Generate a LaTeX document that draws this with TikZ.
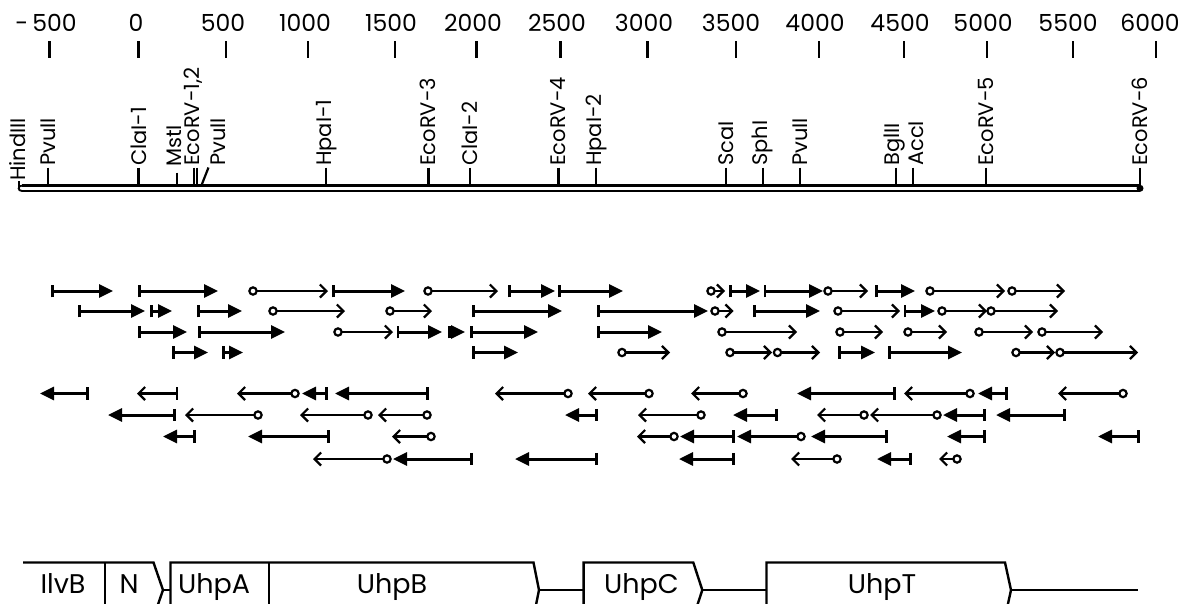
\documentclass[tikz,border=0pt]{standalone}
\usepackage{fontspec}
\setmainfont{Poppins}
\usetikzlibrary{arrows.meta}
\newcommand\rF[3]{\draw[fa] (#1,#3) -- (#2,#3);}
\newcommand\rO[3]{\draw[oa] ({#1-4.75},#3) -- (#2,#3);}
\newcommand\lO[3]{\draw[oa] ({#1+4.75},#3) -- (#2,#3);}
\newcommand\lBC[3]{\draw[bca] (#1,#3) -- (#2,#3);}
\newcommand\lOF[3]{\draw[ofa] ({#1+4.75},#3) -- (#2,#3);}
\begin{document}
\begin{tikzpicture}[x=1pt,y=-1pt,
  fa/.style={line width=3pt,{Bar[width=12.5pt,line width=2.6pt]}-{Triangle[length=14pt,width=13pt]}},
  oa/.style={line width=2.2pt,{Circle[open,length=9.5pt,width=9.5pt]}-{Straight Barb[length=6.5pt,width=13pt]}},
  bca/.style={line width=2.2pt,{Bar[width=12.5pt]}-{Straight Barb[length=6.5pt,width=13pt]}},
  ofa/.style={line width=3pt,{Circle[open,length=9.5pt,width=9.5pt,line width=2.2pt]}-{Triangle[length=14pt,width=13pt]}},
  scalelbl/.style={font=\fontsize{23.5}{23.5}\selectfont,anchor=base,inner sep=0pt},
  scaletick/.style={line width=2.6pt},
  sitelbl/.style={font=\fontsize{21}{21}\selectfont,rotate=90,anchor=west,inner sep=0pt},
  sitetick/.style={line width=2.2pt},
  genelbl/.style={font=\fontsize{27}{27}\selectfont,anchor=base,inner sep=0pt},
  gene/.style={line width=2.4pt,line join=miter},
]
\fill[white] (0,0) rectangle (1183,603);
\useasboundingbox (0,0) rectangle (1183,603);

% scale
\foreach \x/\lx/\t [count=\i] in {49.7/46/{-\,500},138.5/136/0,225.8/223/500,308/305/1000,395/391/1500,476.5/473/2000,560.6/557/2500,647.3/644/3000,735.8/731/3500,819/815/4000,904/900/4500,987/983/5000,1073/1068/5500,1156/1150/6000}{
  \node[scalelbl] (sc\i) at (\lx,31) {\t};
  \draw[scaletick] (\x,41) -- (\x,57.5);
}

% restriction map bar
\draw[line width=2.4pt] (22,185.6) -- (1140,185.6);
\draw[line width=1.5pt] (22,191) -- (1140,191);
\draw[line width=1.8pt] (22,185.6) .. controls (17.5,185.6) and (17.5,191) .. (22,191);
\fill (1140,188.3) circle (3.5);
\draw[sitetick] (19.2,181) -- (19.2,189);
\node[sitelbl] (hind) at (18,181) {HindIII};

\foreach \tx/\lx/\t [count=\i] in {47.8/47.8/PvuII,138.5/138.5/ClaI-1,326.3/326.3/HpaI-1,428.5/428/EcoRV-3,469.8/469.8/ClaI-2,558.5/558.5/EcoRV-4,595.8/596/HpaI-2,726/726/ScaI,762.7/762/SphI,800/800/PvuII,896/894.6/BglII,913/916.5/AccI,986/986/EcoRV-5,1139.6/1139.6/EcoRV-6}{
  \node[sitelbl] (site\i) at (\lx,166) {\t};
  \draw[sitetick] (\tx,167.5) -- (\tx,185);
}
\node[sitelbl] (mst) at (174,167) {MstI};
\draw[sitetick] (176.7,172.5) -- (176.7,185);
\node[sitelbl] (ecorv12) at (192.8,166) {EcoRV-1,2};
\draw[sitetick] (194.3,167.5) -- (194.3,185);
\draw[sitetick] (196.8,167.5) -- (196.8,185);
\node[sitelbl] (pvu2) at (218,166) {PvuII};
\draw[sitetick] (201.6,185) -- (208.5,167.5);

% rightward clones
\def\ya{291}\def\yb{311}\def\yc{332}\def\yd{352.5}
\rF{51}{113}{\ya}\rF{138}{218}{\ya}\rO{253}{328}{\ya}\rF{332}{405}{\ya}
\rO{428}{498}{\ya}\rF{508}{555}{\ya}\rF{558}{623}{\ya}\rO{711}{725}{\ya}
\rF{729}{760}{\ya}\rF{763.5}{823}{\ya}\rO{828}{868}{\ya}\rF{875}{915}{\ya}
\rO{930}{1005}{\ya}\rO{1012}{1065}{\ya}

\rF{78}{145}{\yb}\rF{150}{172}{\yb}\rF{197}{242}{\yb}\rO{273}{345}{\yb}
\rO{390}{432}{\yb}\rF{472}{562}{\yb}\rF{597}{708}{\yb}\rO{715}{733.5}{\yb}
\rF{753}{820}{\yb}\rO{838}{900}{\yb}\rF{903.5}{935}{\yb}\rO{942}{987}{\yb}
\rO{991}{1058}{\yb}

\rF{138}{187}{\yc}\rF{198}{285}{\yc}\rO{338}{393}{\yc}\rF{396.5}{442}{\yc}
\rF{448}{465}{\yc}\rF{470}{538}{\yc}\rF{597}{662}{\yc}\rO{722}{797}{\yc}
\rO{840}{883}{\yc}\rO{908}{947}{\yc}\rO{979}{1033}{\yc}\rO{1042}{1103}{\yc}

\rF{172}{208}{\yd}\rF{222}{243}{\yd}\rF{472}{518}{\yd}\rO{622}{670}{\yd}
\rO{730}{772}{\yd}\rO{777.5}{820}{\yd}\rF{838}{875}{\yd}\rF{888}{962}{\yd}
\rO{1016}{1055}{\yd}\rO{1060}{1138}{\yd}

% leftward clones
\def\ye{393.5}\def\yf{415}\def\yg{436.5}\def\yh{459}
\rF{89}{40}{\ye}\lBC{178}{137}{\ye}\lO{295}{237}{\ye}\rF{328}{302}{\ye}
\rF{429}{335}{\ye}\lO{568}{495}{\ye}\lO{649}{588}{\ye}\lO{743}{691}{\ye}
\rF{896}{797}{\ye}\lO{970}{904}{\ye}\rF{1008}{978}{\ye}\lO{1123}{1058}{\ye}

\rF{176}{108}{\yf}\lO{258}{185}{\yf}\lO{368}{300}{\yf}\lO{427}{378}{\yf}
\rF{598}{565}{\yf}\lO{701}{638}{\yf}\rF{778}{733}{\yf}\lO{864}{817}{\yf}
\lO{937}{870}{\yf}\rF{986}{943}{\yf}\rF{1066}{996}{\yf}

\rF{196}{163}{\yg}\rF{330}{248}{\yg}\lO{431}{392}{\yg}\lO{674}{637}{\yg}
\rF{735}{680}{\yg}\lOF{801}{737}{\yg}\rF{888}{811}{\yg}\rF{986}{947}{\yg}
\rF{1140}{1098}{\yg}

\lO{387}{313}{\yh}\rF{473}{393}{\yh}\rF{598}{515}{\yh}\rF{735}{679}{\yh}
\lO{837}{791}{\yh}\rF{912}{877}{\yh}\lO{957}{939}{\yh}

% gene map
\begin{scope}
\clip (0,0) rectangle (1183,603);
\coordinate (ntip) at (163,590);
\coordinate (uhpaL) at (170.5,590);
\coordinate (btip) at (539,590);
\coordinate (uhpcL) at (583.6,590);
\coordinate (ctip) at (702.3,590);
\coordinate (uhptL) at (766.5,590);
\coordinate (ttip) at (1011,590);
\coordinate (mapend) at (1138,590);
\draw[gene] (23,562.5) -- (153.5,562.5) -- (ntip) -- (153.5,617.5);
\draw[gene] (105,562.5) -- (105,617.5);
\draw[gene] (170.5,617.5) -- (170.5,562.5) -- (533.5,562.5) -- (btip) -- (533.5,617.5);
\draw[gene] (269,562.5) -- (269,617.5);
\draw[gene] (583.6,617.5) -- (583.6,562.5) -- (693.3,562.5) -- (ctip) -- (693.3,617.5);
\draw[gene] (766.5,617.5) -- (766.5,562.5) -- (1005,562.5) -- (ttip) -- (1005,617.5);
\draw[gene] (ntip) -- (uhpaL);
\draw[gene] (btip) -- (uhpcL);
\draw[gene] (ctip) -- (uhptL);
\draw[gene] (ttip) -- (mapend);
\end{scope}
\node[genelbl] (ilvb) at (63,593) {IlvB};
\node[genelbl] (n) at (129,593) {N};
\node[genelbl] (uhpa) at (214,593) {UhpA};
\node[genelbl] (uhpb) at (392,593) {UhpB};
\node[genelbl] (uhpc) at (641.5,593) {UhpC};
\node[genelbl] (uhpt) at (882,593) {UhpT};
\end{tikzpicture}
\end{document}
